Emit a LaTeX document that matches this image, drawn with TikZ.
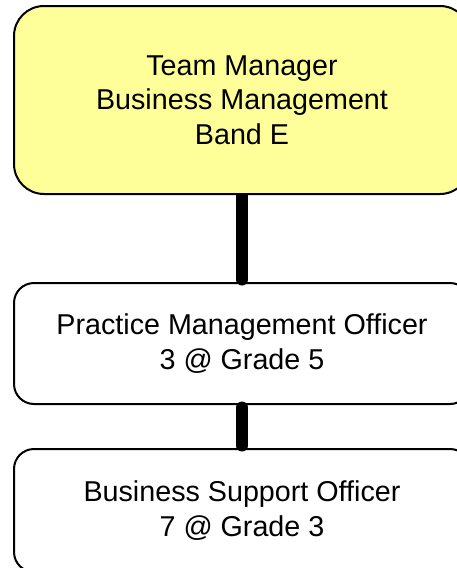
\documentclass[tikz,border=0pt]{standalone}
\usepackage{fontspec}
\setmainfont{Liberation Sans}
\usetikzlibrary{backgrounds}
\definecolor{boxyellow}{RGB}{255,255,153}
\tikzset{
  orgbox/.style={draw=black, line width=2pt, rectangle, minimum width=456pt, inner sep=0pt,
    align=center, font=\fontsize{28.7}{34.5}\selectfont},
  conn/.style={line width=12pt, line cap=round, draw=black}
}
\begin{document}
\begin{tikzpicture}[x=1pt,y=-1pt]
\useasboundingbox (0,0) rectangle (457,568);
\clip (0,0) rectangle (457,568);
\node[orgbox, fill=boxyellow, rounded corners=30pt, minimum height=188pt] (top) at (242,100)
  {Team Manager\\Business Management\\Band E};
\node[orgbox, rounded corners=20pt, minimum height=121pt] (mid) at (242,343.5)
  {Practice Management Officer\\3 @ Grade 5};
\node[orgbox, rounded corners=20pt, minimum height=123pt] (bot) at (242,510.5)
  {Business Support Officer\\7 @ Grade 3};
\begin{scope}[on background layer]
\draw[conn, shorten >=2.5pt] (top.south) -- (mid.north);
\end{scope}
\draw[conn, shorten <=2.5pt, shorten >=2.5pt] (mid.south) -- (bot.north);
\end{tikzpicture}
\end{document}
